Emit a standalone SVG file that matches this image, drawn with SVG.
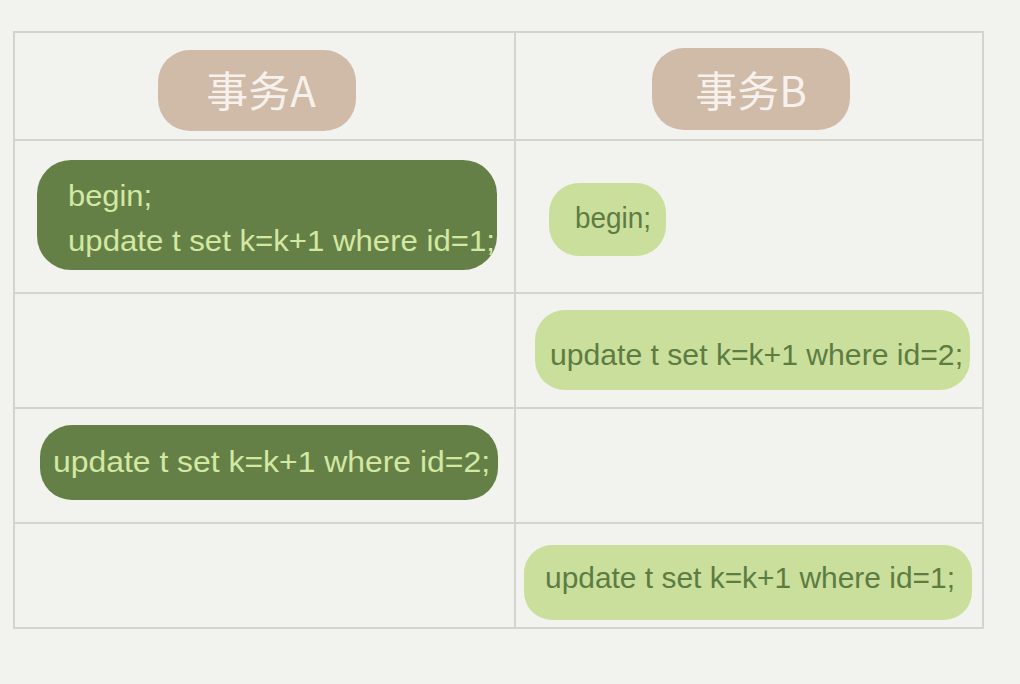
<svg xmlns="http://www.w3.org/2000/svg" width="1020" height="684" viewBox="0 0 1020 684">
<style>
.grid{stroke:#d3d3cf;stroke-width:2;fill:none}
.hdr{fill:#cfbba8}
.dk{fill:#648046}
.lt{fill:#cbdf9d}
.ht{font-family:"Noto Sans CJK SC","Liberation Sans",sans-serif;font-size:42px;fill:#f6f1ec;text-anchor:middle}
.dt{font-family:"Liberation Sans","Noto Sans",sans-serif;font-size:29px;fill:#d3e8a2}
.lt2{font-family:"Liberation Sans","Noto Sans",sans-serif;font-size:29px;fill:#5d7c41}
</style>
<rect width="1020" height="684" fill="#f2f2ee"/>
<g id="grid">
<rect class="grid" x="14" y="32" width="969" height="596"/>
<line class="grid" x1="515" y1="32" x2="515" y2="628"/>
<line class="grid" x1="14" y1="140" x2="983" y2="140"/>
<line class="grid" x1="14" y1="293" x2="983" y2="293"/>
<line class="grid" x1="14" y1="408" x2="983" y2="408"/>
<line class="grid" x1="14" y1="523" x2="983" y2="523"/>
</g>
<g id="hdrA">
<rect class="hdr" x="158" y="50" width="198" height="81" rx="32"/>
<text class="ht" x="261" y="107">事务A</text>
</g>
<g id="hdrB">
<rect class="hdr" x="652" y="48" width="198" height="82" rx="32"/>
<text class="ht" x="751" y="107">事务B</text>
</g>
<g id="a1">
<rect class="dk" x="37" y="160" width="460" height="110" rx="34"/>
<text class="dt" x="68" y="206" textLength="84" lengthAdjust="spacingAndGlyphs">begin;</text>
<text class="dt" x="68" y="251" textLength="427" lengthAdjust="spacingAndGlyphs">update t set k=k+1 where id=1;</text>
</g>
<g id="b1">
<rect class="lt" x="549" y="183" width="117" height="73" rx="30"/>
<text class="lt2" x="575" y="228" textLength="76" lengthAdjust="spacingAndGlyphs">begin;</text>
</g>
<g id="b2">
<rect class="lt" x="535" y="310" width="435" height="80" rx="30"/>
<text class="lt2" x="550" y="365" textLength="413" lengthAdjust="spacingAndGlyphs">update t set k=k+1 where id=2;</text>
</g>
<g id="a2">
<rect class="dk" x="40" y="425" width="458" height="75" rx="32"/>
<text class="dt" x="53" y="472" textLength="437" lengthAdjust="spacingAndGlyphs">update t set k=k+1 where id=2;</text>
</g>
<g id="b3">
<rect class="lt" x="524" y="545" width="448" height="75" rx="28"/>
<text class="lt2" x="545" y="588" textLength="410" lengthAdjust="spacingAndGlyphs">update t set k=k+1 where id=1;</text>
</g>
</svg>
